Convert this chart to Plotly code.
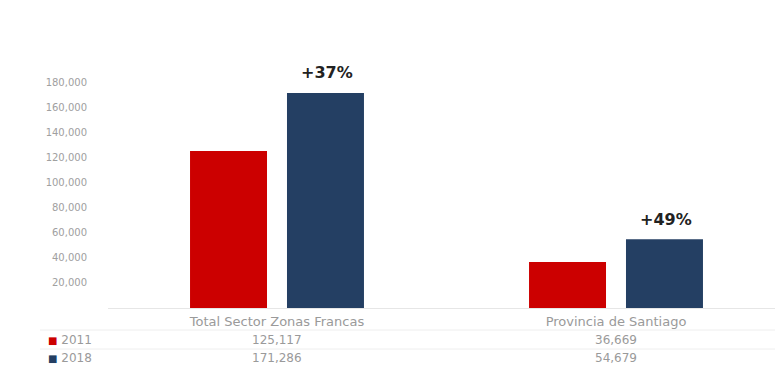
import plotly.graph_objects as go

categories = ["Total Sector Zonas Francas", "Provincia de Santiago"]
series_names = ["2011", "2018"]
values_2011 = [125117, 36669]
values_2018 = [171286, 54679]
growth_labels = ["+37%", "+49%"]
value_labels_2011 = ["125,117", "36,669"]
value_labels_2018 = ["171,286", "54,679"]
tick_values = [20000, 40000, 60000, 80000, 100000, 120000, 140000, 160000, 180000]

colors = ["#CC0000", "#243F63"]
OFF = 8  # page body margin
W, H = 783 - 2 * OFF, 373 - 2 * OFF
ML, MR, MT = 108 - OFF, 0, 82 - OFF
MB = OFF + H - 308
PW = W - ML - MR
PH = H - MT - MB


def xpaper(px):
    return (px - OFF - ML) / PW


def ypaper(py):
    return (OFF + MT + PH - py) / PH


FONT = "DejaVu Sans"
GRAY = "#9a9a9a"

fig = go.Figure()
for name, vals, col in zip(series_names, [values_2011, values_2018], colors):
    fig.add_trace(go.Bar(x=[0, 1], y=vals, name=name, marker=dict(color=col, line=dict(width=0)),
                         showlegend=False))

ann = []
for i, (v, g) in enumerate(zip(values_2018, growth_labels)):
    ann.append(dict(x=i, y=v, xref="x", yref="y", text="<b>" + g + "</b>", showarrow=False,
                    xshift=50, yshift=20, yanchor="middle",
                    font=dict(size=16, color="#222", family=FONT)))

rows = [(value_labels_2011, "2011", colors[0], 340), (value_labels_2018, "2018", colors[1], 358)]
for labels, nm, col, py in rows:
    ann.append(dict(x=xpaper(46), y=ypaper(py), xref="paper", yref="paper", xanchor="left", yanchor="middle",
                    text="<span style='color:%s;font-size:10px'>■</span> %s" % (col, nm), showarrow=False,
                    font=dict(size=12, color=GRAY, family=FONT)))
    for i, t in enumerate(labels):
        ann.append(dict(x=i, y=ypaper(py), xref="x", yref="paper", text=t, showarrow=False,
                        yanchor="middle", font=dict(size=12, color=GRAY, family=FONT)))

shapes = []
for py in [330, 349]:
    shapes.append(dict(type="line", xref="paper", yref="paper", x0=xpaper(40), x1=1,
                       y0=ypaper(py), y1=ypaper(py), line=dict(color="#eeeeee", width=1)))

x0 = -(277 - 108) / 339
x1 = 1 + (775 - 616) / 339

fig.update_layout(
    width=W, height=H, margin=dict(l=ML, r=MR, t=MT, b=MB),
    plot_bgcolor="white", paper_bgcolor="white",
    barmode="group", bargap=0.428, bargroupgap=0.206,
    annotations=ann, shapes=shapes,
    xaxis=dict(range=[x0, x1], tickvals=[0, 1], ticktext=categories,
               showgrid=False, showline=True, linecolor="#e6e6e6", ticks="", ticklabelstandoff=1,
               tickfont=dict(size=13, color=GRAY, family=FONT)),
    yaxis=dict(range=[0, 180000], tickvals=tick_values, tickformat=",d", showgrid=False,
               zeroline=False, showline=False, ticks="", ticklabelstandoff=20,
               tickfont=dict(size=10, color="#a0a0a0", family=FONT)),
)
fig.write_html("out.html")
